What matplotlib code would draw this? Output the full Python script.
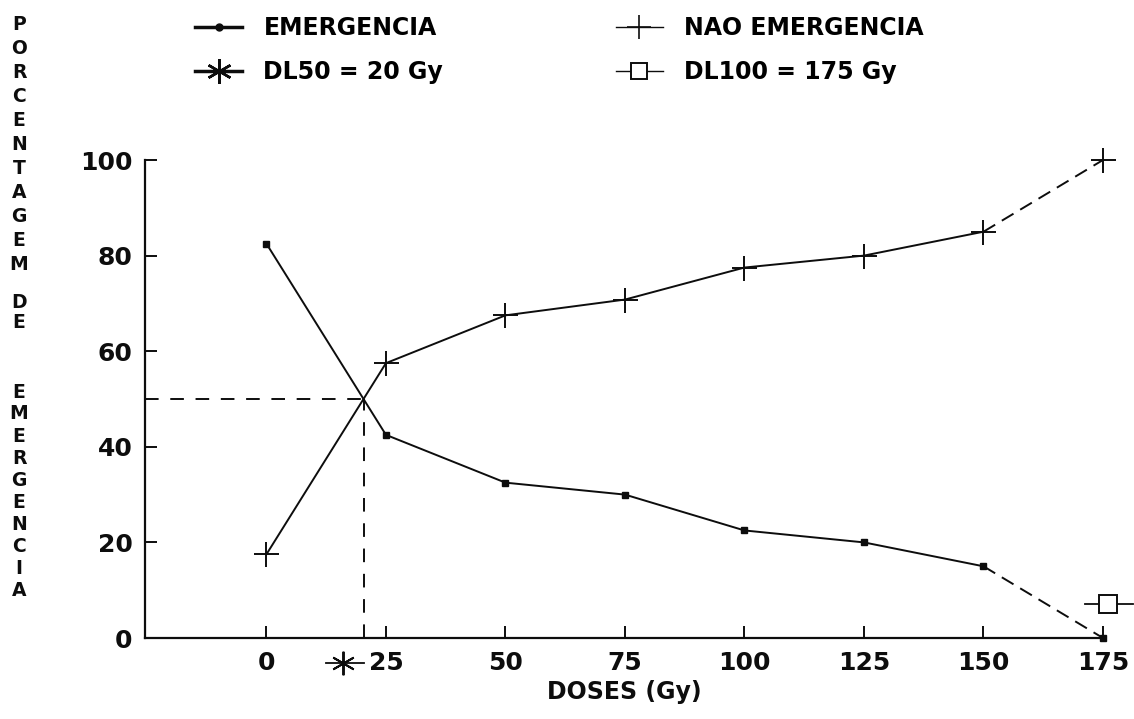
import numpy as np
import matplotlib
matplotlib.use('Agg')
import matplotlib.pyplot as plt
from matplotlib.lines import Line2D

# data
doses = [0, 25, 50, 75, 100, 125, 150, 175]
emergencia = [82.5, 42.5, 32.5, 30.0, 22.5, 20.0, 15.0, 0.0]
nao_emergencia = [17.5, 57.5, 67.5, 70.8, 77.5, 80.0, 85.0, 100.0]
dl50 = 20.5
dl100 = 175
dl50_symbol = [16, -5.2]
dl50_symbol_line = [12.4, 20.5]
dl100_symbol = [176, 7.1]
dl100_symbol_line = [171.3, 181.2]
xticks = [0, 25, 50, 75, 100, 125, 150, 175]
yticks = [0, 20, 40, 60, 80, 100]

ink = '#0d0d0d'
plt.rcParams['font.family'] = 'DejaVu Sans'
plt.rcParams['font.weight'] = 'bold'

fig = plt.figure(figsize=(11.34, 7.19), dpi=100)
W, H = 1134, 719
ax = fig.add_axes([145 / W, 1 - 638 / H, (1103 - 145) / W, (638 - 160) / H])

# solid part up to 150, dashed 150 -> 175
ax.plot(doses[:-1], emergencia[:-1], color=ink, lw=1.4, marker='s', ms=4.5)
ax.plot(doses[-2:], emergencia[-2:], color=ink, lw=1.4, ls=(0, (7, 4)),
        marker='s', ms=4.5, markevery=[1], clip_on=False)
ax.plot(doses[:-1], nao_emergencia[:-1], color=ink, lw=1.4, marker='+',
        ms=18, mew=1.4)
ax.plot(doses[-2:], nao_emergencia[-2:], color=ink, lw=1.4, ls=(0, (7, 4)),
        marker='+', ms=18, mew=1.4, markevery=[1], clip_on=False)

# DL50 guide lines
ax.plot([-25.4, dl50], [50, 50], color=ink, lw=1.4, ls=(0, (7, 6)))
ax.plot([dl50, dl50], [0, 50], color=ink, lw=1.4, ls=(0, (7, 6)))

# symbols marking DL50 and DL100
ax.plot(dl50_symbol_line, [dl50_symbol[1]] * 2, color=ink, lw=1.3, clip_on=False)
ax.plot([dl50_symbol[0]], [dl50_symbol[1]], color=ink, marker=(6, 2, 0),
        ms=17, mew=1.4, clip_on=False)
ax.plot(dl100_symbol_line, [dl100_symbol[1]] * 2, color=ink, lw=1.3, clip_on=False)
ax.plot([dl100_symbol[0]], [dl100_symbol[1]], color=ink, marker='s', ms=13,
        mfc='white', mew=1.4, clip_on=False)

ax.set_xlim(-25.4, 175)
ax.set_ylim(0, 100)
ax.set_xticks(xticks)
ax.set_yticks(yticks)
ax.tick_params(direction='in', length=8.5, width=1.4, color=ink,
               labelsize=18, pad=9, labelcolor=ink)
for lab in ax.get_xticklabels() + ax.get_yticklabels():
    lab.set_fontweight('bold')
ax.spines['top'].set_visible(False)
ax.spines['right'].set_visible(False)
for s in ['left', 'bottom']:
    ax.spines[s].set_linewidth(1.6)
    ax.spines[s].set_color(ink)
ax.set_xlabel('DOSES (Gy)', fontsize=17, fontweight='bold', labelpad=4, color=ink)

# vertical stacked y label
def stack(word, y_first, y_last):
    ys = np.linspace(y_first, y_last, len(word))
    for ch, y in zip(word, ys):
        fig.text(19 / W, 1 - y / H, ch, fontsize=13.5, fontweight='heavy',
                 ha='center', va='center', color=ink)

stack('PORCENTAGEM', 25, 264)
stack('DE', 303, 322)
stack('EMERGENCIA', 392, 590)

handles = [
    Line2D([], [], color=ink, lw=2.5, marker='o', ms=5),
    Line2D([], [], color=ink, lw=2.5, marker=(6, 2, 0), ms=18, mew=1.8),
    Line2D([], [], color=ink, lw=1.0, marker='+', ms=17, mew=1.2),
    Line2D([], [], color=ink, lw=1.0, marker='s', ms=12, mfc='white', mew=1.4),
]
labels = ['EMERGENCIA', 'DL50 = 20 Gy', 'NAO EMERGENCIA', 'DL100 = 175 Gy']
fig.legend(handles, labels, loc='upper left', bbox_to_anchor=(195 / W, 1 - 16 / H),
           ncol=2, frameon=False, handlelength=2.0,
           handletextpad=0.9, columnspacing=7.3, labelspacing=0.85,
           borderpad=0, borderaxespad=0, prop={'weight': 'bold', 'size': 17})

fig.savefig('out.png', dpi=100)
